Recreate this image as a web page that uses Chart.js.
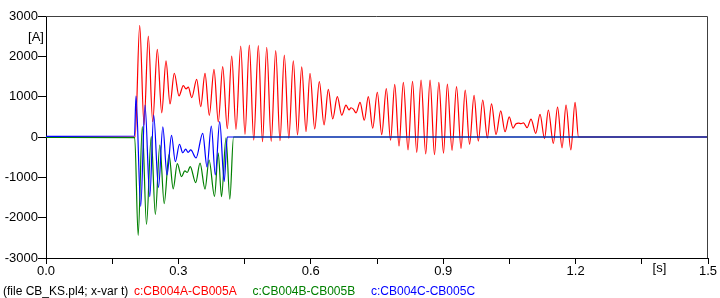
<!DOCTYPE html>
<html><head><meta charset="utf-8">
<script src="https://cdn.jsdelivr.net/npm/chart.js@4/dist/chart.umd.min.js"></script>
<style>html,body{margin:0;padding:0;background:#fff;overflow:hidden}</style>
</head><body>
<canvas id="c" width="720" height="298" style="display:block;width:720px;height:298px"></canvas>
<script>
// ---- data (time in s, current in A) ----
const tRed = [
 0, 0.2020, 0.2123, 0.2221, 0.2318, 0.2418, 0.2522, 0.2622, 0.2719, 0.2810,
 0.2907, 0.3014, 0.3111, 0.3173, 0.3225, 0.3302, 0.3415, 0.3506, 0.3603, 0.3700,
 0.3807, 0.3904, 0.4004, 0.4108, 0.4208, 0.4305, 0.4412, 0.4509, 0.4607, 0.4707,
 0.4811, 0.4906, 0.5001, 0.5103, 0.5205, 0.5302, 0.5400, 0.5502, 0.5604, 0.5699,
 0.5794, 0.5892, 0.5982, 0.6089, 0.6193, 0.6300, 0.6397, 0.6497, 0.6601, 0.6701,
 0.6798, 0.6866, 0.6910, 0.6964, 0.7025, 0.7115, 0.7213, 0.7303, 0.7403, 0.7507,
 0.7607, 0.7711, 0.7807, 0.7902, 0.7999, 0.8097, 0.8203, 0.8305, 0.8400, 0.8498,
 0.8604, 0.8702, 0.8803, 0.8901, 0.9007, 0.9094, 0.9200, 0.9302, 0.9404, 0.9499,
 0.9597, 0.9699, 0.9796, 0.9896, 1.0000, 1.0095, 1.0197, 1.0304, 1.0401, 1.0496,
 1.0582, 1.0650, 1.0707, 1.0764, 1.0820, 1.0900, 1.0990, 1.1097, 1.1194, 1.1296,
 1.1382, 1.1496, 1.1591, 1.1693, 1.1783, 1.1892, 1.1987, 1.2066, 1.5
];
const vRed = [
 0, 0, 2770, 300, 2500, 380, 2175, 600, 1885, 820,
 1580, 1020, 1275, 1195, 1235, 975, 1430, 752, 1579, 538,
 1678, 372, 1745, 206, 2008, 190, 2256, 67, 2280, -75,
 2265, -116, 2225, -110, 2140, -90, 2030, -30, 1890, 50,
 1740, 130, 1580, 200, 1372, 300, 1182, 450, 1000, 540,
 790, 670, 725, 690, 600, 860, 415, 1000, 220, 1110,
 60, 1200, -80, 1306, -223, 1355, -320, 1380, -380, 1413,
 -420, 1413, -440, 1355, -400, 1310, -330, 1248, -280, 1165,
 -180, 1030, -100, 917, -20, 820, 60, 650, 130, 500,
 220, 330, 345, 330, 350, 230, 445, 91, 560, -40,
 670, -157, 740, -270, 790, -320, 860, 0, 0
];
const tGreen = [
 0, 0.2010, 0.2088, 0.2182, 0.2277, 0.2384, 0.2477, 0.2579, 0.2678, 0.2787,
 0.2882, 0.2975, 0.3071, 0.3145, 0.3200, 0.3268, 0.3392, 0.3490, 0.3603, 0.3695,
 0.3818, 0.3903, 0.3977, 0.4079, 0.4165, 0.4249, 1.5
];
const vGreen = [
 -10, -15, -2440, 256, -2170, 8, -1920, -198, -1650, -434,
 -1285, -660, -984, -840, -880, -735, -1130, -650, -1290, -570,
 -1470, -400, -1480, -20, -1540, 0, 0
];
const tBlue = [
 0, 0.2005, 0.2039, 0.2146, 0.2243, 0.2352, 0.2440, 0.2549, 0.2647, 0.2742,
 0.2844, 0.2930, 0.3025, 0.3098, 0.3165, 0.3220, 0.3280, 0.3400, 0.3551, 0.3648,
 0.3746, 0.3836, 0.3936, 0.4038, 0.4108, 1.5
];
const vBlue = [
 15, 25, 1017, -1720, 793, -1480, 545, -1250, 250, -940,
 40, -612, -180, -390, -300, -380, -320, -520, 91, -740,
 273, -940, 380, -1100, 0, 0
];
const seriesNames = ['c:CB004A-CB005A', 'c:CB004B-CB005B', 'c:CB004C-CB005C'];
const seriesColors = ['#ff0000', '#008000', '#0000ff'];
const fileLabel = '(file CB_KS.pl4; x-var t)';
const xUnit = '[s]';
const yUnit = '[A]';
const xMin = 0, xMax = 1.5, xStep = 0.15;
const yMin = -3000, yMax = 3000, yStep = 1000;

const FONT = "'Liberation Sans', Arial, sans-serif";
function pts(t, v) { return t.map((x, i) => ({ x: x, y: v[i] })); }

const textPlugin = {
  id: 'texts',
  afterDraw(chart) {
    const { ctx, chartArea: a, scales } = chart;
    ctx.save();
    ctx.strokeStyle = '#404040';
    ctx.lineWidth = 1;
    ctx.beginPath();
    ctx.moveTo(a.left, a.top + 0.5);
    ctx.lineTo(a.right - 0.5, a.top + 0.5);
    ctx.lineTo(a.right - 0.5, a.bottom);
    ctx.stroke();
    ctx.fillStyle = '#000';
    ctx.font = '13px ' + FONT;
    ctx.textAlign = 'center';
    ctx.textBaseline = 'middle';
    ctx.fillText(yUnit, 36, scales.y.getPixelForValue(2480));
    ctx.fillText(xUnit, scales.x.getPixelForValue(1.39), a.bottom + 10);
    ctx.font = '12px ' + FONT;
    ctx.textAlign = 'left';
    ctx.textBaseline = 'alphabetic';
    const yb = 295;
    ctx.fillStyle = '#000';
    ctx.fillText(fileLabel, 3, yb);
    const xs = [134, 252.5, 371];
    seriesNames.forEach((n, i) => { ctx.fillStyle = seriesColors[i]; ctx.fillText(n, xs[i], yb); });
    ctx.restore();
  }
};

const common = { pointRadius: 0, borderWidth: 1.2, fill: false, cubicInterpolationMode: 'monotone' };
new Chart(document.getElementById('c'), {
  type: 'line',
  data: {
    datasets: [
      Object.assign({ label: seriesNames[2], data: pts(tBlue, vBlue), borderColor: seriesColors[2], order: 1 }, common),
      Object.assign({ label: seriesNames[1], data: pts(tGreen, vGreen), borderColor: seriesColors[1], order: 2 }, common),
      Object.assign({ label: seriesNames[0], data: pts(tRed, vRed), borderColor: seriesColors[0], order: 3 }, common)
    ]
  },
  options: {
    responsive: false,
    animation: false,
    devicePixelRatio: 1,
    layout: { padding: { left: 0, right: 12, top: 16, bottom: 0 } },
    plugins: { legend: { display: false }, tooltip: { enabled: false } },
    scales: {
      x: {
        type: 'linear', min: xMin, max: xMax,
        afterFit(s) { s.height = 40; },
        border: { display: true, color: '#000', width: 1 },
        grid: { drawOnChartArea: false, drawTicks: true, tickLength: 6, color: '#000' },
        ticks: {
          stepSize: xStep, autoSkip: false, maxRotation: 0, padding: 0,
          color: '#000', font: { family: FONT, size: 13 },
          callback: (v, i) => (i % 2 === 0 ? Number(v).toFixed(1) : '')
        }
      },
      y: {
        type: 'linear', min: yMin, max: yMax,
        afterFit(s) { s.width = 46; },
        border: { display: true, color: '#000', width: 1 },
        grid: { drawOnChartArea: false, drawTicks: true, tickLength: 8, color: '#000' },
        ticks: {
          stepSize: yStep, padding: 0, color: '#000', font: { family: FONT, size: 13 },
          callback: (v) => String(v)
        }
      }
    }
  },
  plugins: [textPlugin]
});
</script>
</body></html>
